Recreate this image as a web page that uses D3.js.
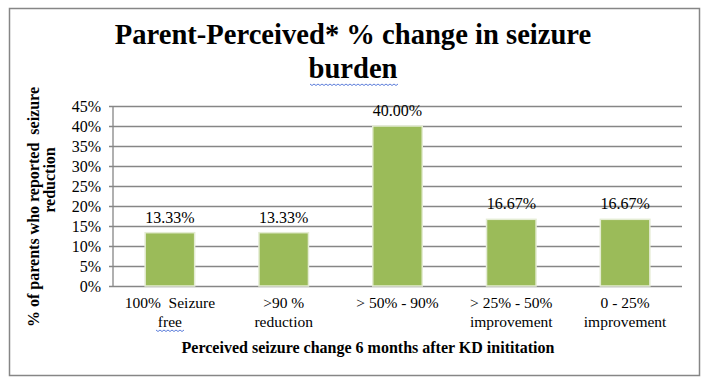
<!DOCTYPE html>
<html>
<head>
<meta charset="utf-8">
<script src="https://cdn.jsdelivr.net/npm/d3@7"></script>
<style>
  body { margin: 0; background: #fff; }
  text { font-family: "Liberation Serif", "Times New Roman", serif; white-space: pre; }
</style>
</head>
<body>
<div id="wrapper"></div>
<script>
// data
const categories = [
  ['100%  Seizure', 'free'],
  ['>90 %', 'reduction'],
  ['> 50% - 90%'],
  ['> 25% - 50%', 'improvement'],
  ['0 - 25%', 'improvement']
]
const values = [13.33, 13.33, 40.00, 16.67, 16.67]
const yTicks = [0, 5, 10, 15, 20, 25, 30, 35, 40, 45]

function drawBars() {
  const dimensions = {
    width: 708,
    height: 384,
    margin: { top: 106, right: 26, bottom: 98, left: 113 }
  }
  dimensions.boundedWidth = dimensions.width - dimensions.margin.left - dimensions.margin.right
  dimensions.boundedHeight = dimensions.height - dimensions.margin.top - dimensions.margin.bottom

  const wrapper = d3.select('#wrapper')
    .append('svg')
      .attr('width', dimensions.width)
      .attr('height', dimensions.height)

  // outer frame
  wrapper.append('rect')
    .attr('x', 9.5).attr('y', 8.5)
    .attr('width', 690).attr('height', 367)
    .attr('fill', '#fff')
    .attr('stroke', '#868686')
    .attr('stroke-width', 1.5)

  // title
  const title = wrapper.append('text')
    .attr('text-anchor', 'middle')
    .attr('font-weight', 'bold')
    .attr('font-size', 28.6)
  title.append('tspan').attr('x', 353).attr('y', 44).text('Parent-Perceived* % change in seizure')
  title.append('tspan').attr('x', 353).attr('y', 78).text('burden')

  const bounds = wrapper.append('g')
    .attr('transform', `translate(${dimensions.margin.left}, ${dimensions.margin.top})`)

  // scales
  const xScale = d3.scaleBand()
    .domain(d3.range(categories.length))
    .range([0, dimensions.boundedWidth])
    .paddingInner(0.565)
    .paddingOuter(0.2825)

  const yScale = d3.scaleLinear()
    .domain([0, 45])
    .range([dimensions.boundedHeight, 0])

  // gridlines + y axis
  const yAxis = d3.axisLeft(yScale)
    .tickValues(yTicks)
    .tickSize(-dimensions.boundedWidth)
    .tickFormat(d => d + '%')
  const yAxisGroup = bounds.append('g').call(yAxis)
  yAxisGroup.select('.domain').remove()
  yAxisGroup.selectAll('.tick line')
    .attr('x1', -4)
    .attr('stroke', '#868686')
    .attr('stroke-width', 1.3)
  yAxisGroup.selectAll('.tick text')
    .attr('x', -12)
    .attr('font-size', 16)
    .attr('font-family', '"Liberation Serif", serif')
    .attr('fill', '#000')

  bounds.append('line')
    .attr('x1', 0).attr('x2', 0)
    .attr('y1', 0).attr('y2', dimensions.boundedHeight)
    .attr('stroke', '#868686')
    .attr('stroke-width', 1.3)

  // bars
  bounds.selectAll('rect.bar')
    .data(values)
    .enter().append('rect')
      .attr('class', 'bar')
      .attr('x', (d, i) => xScale(i))
      .attr('y', d => yScale(d))
      .attr('width', xScale.bandwidth())
      .attr('height', d => dimensions.boundedHeight - yScale(d))
      .attr('fill', '#9bbb59')
      .attr('stroke', '#e4ecd3')
      .attr('stroke-width', 1.5)

  // data labels
  bounds.selectAll('text.label')
    .data(values)
    .enter().append('text')
      .attr('class', 'label')
      .attr('x', (d, i) => xScale(i) + xScale.bandwidth() / 2)
      .attr('y', d => yScale(d) - 10)
      .attr('text-anchor', 'middle')
      .attr('font-size', 16)
      .text(d => d.toFixed(2) + '%')

  // category labels
  const catGroups = bounds.selectAll('text.cat')
    .data(categories)
    .enter().append('text')
      .attr('class', 'cat')
      .attr('text-anchor', 'middle')
      .attr('font-size', 15.5)
  catGroups.selectAll('tspan')
    .data((d, i) => d.map(line => ({ line, i })))
    .enter().append('tspan')
      .attr('x', d => xScale(d.i) + xScale.bandwidth() / 2)
      .attr('y', (d, j) => dimensions.boundedHeight + 22 + j * 19)
      .text(d => d.line)

  // spell-check squiggles
  const squiggle = (x0, x1, y) => {
    let p = `M${x0},${y}`
    for (let x = x0, k = 0; x < x1; x += 2, k++) p += `L${x + 2},${y + (k % 2 ? 0 : 1.5)}`
    return p
  }
  wrapper.append('path')
    .attr('d', squiggle(156, 183, 330))
    .attr('fill', 'none').attr('stroke', '#4a6fd6').attr('stroke-width', 0.9)
  wrapper.append('path')
    .attr('d', squiggle(310, 397, 84))
    .attr('fill', 'none').attr('stroke', '#4a6fd6').attr('stroke-width', 0.9)

  // x axis title
  wrapper.append('text')
    .attr('x', 368)
    .attr('y', 353)
    .attr('text-anchor', 'middle')
    .attr('font-weight', 'bold')
    .attr('font-size', 16)
    .text('Perceived seizure change 6 months after KD inititation')

  // y axis title
  const yTitle = wrapper.append('text')
    .attr('transform', 'rotate(-90)')
    .attr('text-anchor', 'middle')
    .attr('font-weight', 'bold')
    .attr('font-size', 16)
  yTitle.append('tspan').attr('x', -207).attr('y', 39).text('% of parents who reported  seizure')
  yTitle.append('tspan').attr('x', -180).attr('y', 55).text('reduction')
}

drawBars()
</script>
</body>
</html>
